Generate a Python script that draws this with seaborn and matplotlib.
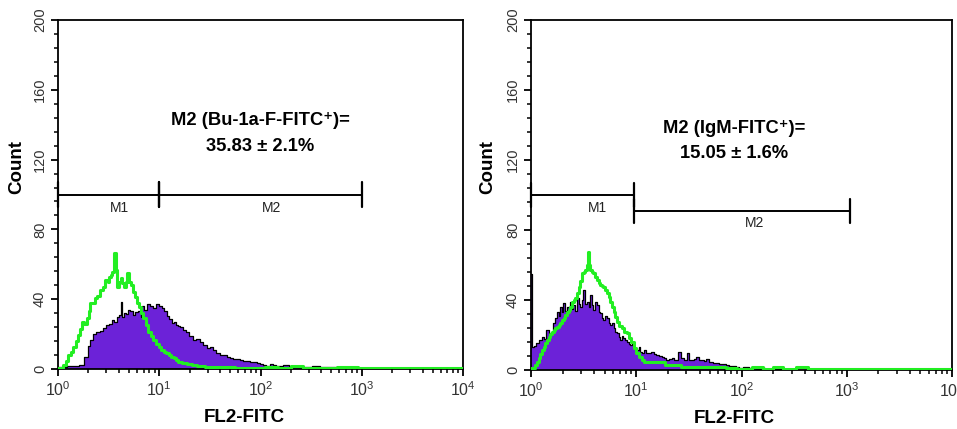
import numpy as np
import pandas as pd
import matplotlib
matplotlib.use("Agg")
import matplotlib.pyplot as plt
from matplotlib.ticker import LogLocator, MultipleLocator, FixedLocator
import seaborn as sns

# ---------------- data ----------------
# x positions given as log10(FL2-FITC), y = Count
left_purple_log = [0.00, 0.06, 0.12, 0.18, 0.24, 0.28, 0.31, 0.33, 0.36, 0.39, 0.43, 0.46, 0.49, 0.52,
                   0.54, 0.57, 0.59, 0.61, 0.626, 0.642, 0.66, 0.676, 0.70, 0.725, 0.75, 0.775, 0.807,
                   0.825, 0.84, 0.865, 0.889, 0.92, 0.955, 0.988, 1.01, 1.038, 1.06, 1.087, 1.11, 1.136,
                   1.153, 1.17, 1.2, 1.219, 1.25, 1.285, 1.31, 1.35, 1.38, 1.417, 1.45, 1.483, 1.51,
                   1.548, 1.58, 1.614, 1.65, 1.68, 1.71, 1.746, 1.78, 1.81, 1.84, 1.877, 1.91, 1.943,
                   1.98, 2.009, 2.04, 2.075, 2.11, 2.14, 2.17, 2.206, 2.24, 2.272, 2.30, 2.338, 2.4,
                   2.47, 2.55, 2.62, 2.7, 2.78, 2.85, 2.93, 2.97, 3.0, 4.0]
left_purple_cnt = [1.3, 1.3, 1.5, 1.8, 2.5, 7, 13, 16.6, 20, 21.4, 22, 23.3, 25.2, 26,
                   28, 27, 29.6, 31, 38.6, 29.6, 32, 31.5, 34, 33.4, 31, 32.5, 33,
                   30, 36, 34, 37, 36, 35.2, 37, 36, 35.2, 33, 30.4, 28.5, 26.6,
                   27, 25, 24.7, 24.3, 22.5, 21.4, 19, 16.6, 17, 15.6, 13.5, 11.8, 12.5,
                   10.9, 9, 8, 8.2, 7, 6.5, 5.5, 5.8, 5.2, 4.8, 4.6, 4, 4.2,
                   3.2, 2.9, 2.5, 1.9, 2.6, 2.3, 1.8, 1.7, 2.2, 2.1, 1.5, 1.7, 1.4,
                   1.2, 1.5, 1.0, 1.2, 0.6, 0.8, 1.0, 0.3, 0, 0]

left_green_log = [0.00, 0.03, 0.066, 0.09, 0.116, 0.14, 0.165, 0.19, 0.214, 0.23, 0.247, 0.27, 0.296,
                  0.31, 0.33, 0.355, 0.379, 0.40, 0.429, 0.45, 0.478, 0.50, 0.511, 0.53, 0.543, 0.56,
                  0.577, 0.593, 0.61, 0.626, 0.642, 0.659, 0.675, 0.692, 0.71, 0.725, 0.75, 0.775,
                  0.79, 0.807, 0.83, 0.856, 0.88, 0.906, 0.93, 0.955, 0.98, 1.005, 1.03, 1.054, 1.08,
                  1.104, 1.13, 1.153, 1.18, 1.2, 1.25, 1.3, 1.35, 1.4, 1.5, 1.6, 1.7, 1.8, 1.9, 2.15,
                  2.2, 2.39, 2.45, 2.93, 3.0, 4.0]
left_green_cnt = [0.5, 0.8, 2.3, 4.5, 8, 10, 12.8, 16, 19.5, 23, 27, 26, 29,
                  33, 37.6, 38, 40.5, 42, 45.3, 47, 51, 50, 52.9, 54, 55.8, 66.3,
                  56.7, 47.2, 50, 52, 49, 47.2, 50, 54.8, 50, 48, 44, 41.4,
                  38, 35.7, 32, 29, 25, 21.4, 19, 16.6, 14.5, 12.8, 11, 9.9, 9,
                  8, 7, 6.1, 5, 4.2, 3.2, 2.8, 2.5, 1.6, 1.3, 1.2, 1.0, 0.6, 0.5, 1.2,
                  0.4, 1.5, 0.3, 1.2, 0.3, 0.3]

right_purple_log = [0.00, 0.016, 0.04, 0.064, 0.09, 0.111, 0.135, 0.159, 0.19, 0.222, 0.24, 0.254,
                    0.27, 0.285, 0.30, 0.317, 0.335, 0.349, 0.365, 0.38, 0.395, 0.412, 0.428, 0.444,
                    0.46, 0.475, 0.49, 0.507, 0.523, 0.539, 0.555, 0.57, 0.585, 0.602, 0.618, 0.634,
                    0.65, 0.666, 0.68, 0.697, 0.713, 0.729, 0.745, 0.761, 0.776, 0.792, 0.808, 0.824,
                    0.84, 0.856, 0.87, 0.887, 0.903, 0.919, 0.935, 0.951, 0.967, 0.983, 1.0, 1.014,
                    1.03, 1.046, 1.062, 1.078, 1.1, 1.125, 1.156, 1.18, 1.204, 1.23, 1.251, 1.275,
                    1.299, 1.325, 1.346, 1.375, 1.41, 1.44, 1.465, 1.49, 1.515, 1.537, 1.56, 1.584,
                    1.61, 1.632, 1.655, 1.679, 1.71, 1.743, 1.775, 1.806, 1.84, 1.87, 1.9, 1.933,
                    1.965, 1.996, 2.03, 2.06, 2.09, 2.124, 2.155, 2.187, 2.25, 2.3, 2.36, 2.4, 4.0]
right_purple_cnt = [55, 13.3, 14, 15.2, 17, 19, 18, 22.9, 21, 26.7, 30, 33.3,
                    31, 36.2, 33, 38.1, 34, 36.2, 33, 39, 35, 37.1, 34, 41,
                    38, 36.2, 40, 45.7, 38, 39, 36, 42.9, 37, 34.3, 39, 37.1,
                    33, 32.4, 30, 28.6, 31, 29.5, 27, 25.7, 27, 23.8, 22, 21,
                    19, 17.1, 19.5, 18.1, 17, 16.2, 15, 14.3, 16, 13.3, 12.5, 11.4,
                    13, 10.5, 9.5, 11.4, 10, 9.5, 10.5, 9, 8.6, 8, 7.6, 6.8,
                    5.7, 6.5, 6.7, 5.5, 10.5, 6.7, 6, 9.5, 6, 5.7, 6.5, 7.6,
                    5.5, 5.7, 5, 6.1, 4.5, 3.8, 4, 3.4, 3.2, 2.9, 2.5, 2.3,
                    1.8, 1.0, 1.8, 1.5, 1.2, 1.5, 0.8, 1.0, 0.6, 0.8, 0.6, 0, 0]

right_green_log = [0.00, 0.03, 0.048, 0.065, 0.08, 0.095, 0.111, 0.127, 0.143, 0.16, 0.175, 0.19,
                   0.206, 0.222, 0.238, 0.254, 0.27, 0.285, 0.301, 0.317, 0.333, 0.35, 0.365, 0.38,
                   0.396, 0.412, 0.428, 0.444, 0.46, 0.475, 0.491, 0.507, 0.523, 0.535, 0.548, 0.56,
                   0.57, 0.585, 0.602, 0.618, 0.634, 0.65, 0.666, 0.68, 0.697, 0.713, 0.729, 0.745,
                   0.761, 0.776, 0.792, 0.808, 0.824, 0.85, 0.871, 0.9, 0.919, 0.94, 0.966, 0.99,
                   1.014, 1.04, 1.061, 1.09, 1.125, 1.2, 1.25, 1.3, 1.4, 1.45, 1.6, 1.8, 1.9, 2.0,
                   2.18, 2.22, 2.37, 2.41, 2.61, 2.65, 4.0]
right_green_cnt = [1, 1, 2.9, 4.5, 6.7, 9, 11.4, 13, 15.2, 17, 19, 20.5,
                   21.9, 23, 23.8, 24.5, 25.7, 27, 28.6, 30, 31.4, 33, 34.3, 36,
                   39, 40, 41, 44, 47.6, 51, 55.2, 56, 57.1, 60, 67.6, 60,
                   57.1, 56, 55.2, 53, 51.4, 50, 48.6, 48, 47.6, 45.5, 43.8, 41.5,
                   39, 36, 33.3, 30.5, 27.6, 25, 23.8, 22, 21, 18.5, 16.2, 12.5,
                   9.5, 7.5, 5.7, 4.8, 4.8, 4.8, 4.5, 2.9, 2.8, 1.8, 1.5, 1.5, 1.0, 0.6,
                   1.5, 0.4, 1.5, 0.4, 1.5, 0.4, 0.4]

panel_titles = ["M2 (Bu-1a-F-FITC\u207a)=", "M2 (IgM-FITC\u207a)="]
panel_values = ["35.83 \u00b1 2.1%", "15.05 \u00b1 1.6%"]
y_ticks = [0, 40, 80, 120, 160, 200]
x_ticks = [1, 10, 100, 1000, 10000]
x_tick_labels = [r"$10^{0}$", r"$10^{1}$", r"$10^{2}$", r"$10^{3}$", r"$10^{4}$"]

# marker brackets: (name, start, end, y)
left_markers = [("M1", 1.0, 10.0, 100), ("M2", 10.0, 1000.0, 100)]
right_markers = [("M1", 1.0, 9.6, 100), ("M2", 9.6, 1065.0, 91)]

# ---------------- style ----------------
sns.set_theme(style="ticks")
plt.rcParams["font.family"] = ["Liberation Sans", "DejaVu Sans"]
plt.rcParams["mathtext.fontset"] = "custom"
plt.rcParams["mathtext.rm"] = "Liberation Sans"
plt.rcParams["mathtext.it"] = "Liberation Sans"

PURPLE = "#6c22d8"
GREEN = "#22ee22"

fig = plt.figure(figsize=(9.57, 4.29), dpi=100)
axL = fig.add_axes([58 / 957, 60 / 429, 405 / 957, 349 / 429])
axR = fig.add_axes([531 / 957, 59 / 429, 421 / 957, 350 / 429])


def draw_panel(ax, p_log, p_cnt, g_log, g_cnt, markers, title, value, text_x, text_y1, text_y2,
               xlabel_x, m_label_pos):
    dp = pd.DataFrame({"x": np.power(10.0, p_log), "y": p_cnt})
    dg = pd.DataFrame({"x": np.power(10.0, g_log), "y": g_cnt})
    ax.fill_between(dp["x"], dp["y"], step="mid", color=PURPLE, lw=0, zorder=2)
    sns.lineplot(data=dp, x="x", y="y", ax=ax, color="black", lw=0.9,
                 drawstyle="steps-mid", estimator=None, sort=False, zorder=3)
    sns.lineplot(data=dg, x="x", y="y", ax=ax, color=GREEN, lw=2.2,
                 drawstyle="steps-mid", estimator=None, sort=False, zorder=4)

    ax.set_xscale("log")
    ax.set_xlim(1, 10000)
    ax.set_ylim(0, 200)
    ax.xaxis.set_major_locator(FixedLocator(x_ticks))
    ax.set_xticklabels(x_tick_labels)
    ax.xaxis.set_minor_locator(LogLocator(base=10, subs=np.arange(2, 10), numticks=20))
    ax.yaxis.set_major_locator(FixedLocator(y_ticks))
    ax.set_yticklabels([str(v) for v in y_ticks])
    ax.yaxis.set_minor_locator(MultipleLocator(8))
    ax.tick_params(axis="both", which="major", direction="out", length=5, width=1.3,
                   color="black", labelcolor="#333333", pad=3)
    ax.tick_params(axis="x", which="major", labelsize=11.5)
    ax.tick_params(axis="y", which="major", labelsize=10.5)
    ax.tick_params(axis="both", which="minor", direction="out", length=3, width=1.1, color="black")
    ax.tick_params(axis="y", labelrotation=90)
    for lab in ax.get_yticklabels():
        lab.set_va("center")
    for s in ax.spines.values():
        s.set_visible(True)
        s.set_color("black")
        s.set_linewidth(1.3)

    ax.set_ylabel("Count", fontsize=13.5, fontweight="bold", color="black")
    ax.yaxis.set_label_coords(-0.082, 0.58)
    ax.set_xlabel("FL2-FITC", fontsize=13.5, fontweight="bold", color="black")
    ax.xaxis.set_label_coords(xlabel_x, -0.115)

    # marker brackets
    h = 7
    for name, x0, x1, y in markers:
        ax.plot([x0, x1], [y, y], color="black", lw=1.4, zorder=5, clip_on=False)
        ax.plot([x0, x0], [y - h, y + h], color="black", lw=1.6, zorder=5, clip_on=False)
        ax.plot([x1, x1], [y - h, y + h], color="black", lw=1.6, zorder=5, clip_on=False)
    for (name, lx, ly) in m_label_pos:
        ax.text(lx, ly, name, ha="center", va="center", fontsize=10, color="#222222")

    ax.text(text_x, text_y1, title, ha="center", va="center", fontsize=13.2,
            fontweight="bold", color="black")
    ax.text(text_x, text_y2, value, ha="center", va="center", fontsize=13.2,
            fontweight="bold", color="black")


draw_panel(axL, left_purple_log, left_purple_cnt, left_green_log, left_green_cnt,
           left_markers, panel_titles[0], panel_values[0], 100, 142.5, 127.5, 0.46,
           [("M1", 10 ** 0.61, 92), ("M2", 10 ** 2.11, 92)])
draw_panel(axR, right_purple_log, right_purple_cnt, right_green_log, right_green_cnt,
           right_markers, panel_titles[1], panel_values[1], 10 ** 1.93, 138, 124, 0.483,
           [("M1", 10 ** 0.634, 92.5), ("M2", 10 ** 2.12, 84)])

fig.savefig("out.png", dpi=100)
